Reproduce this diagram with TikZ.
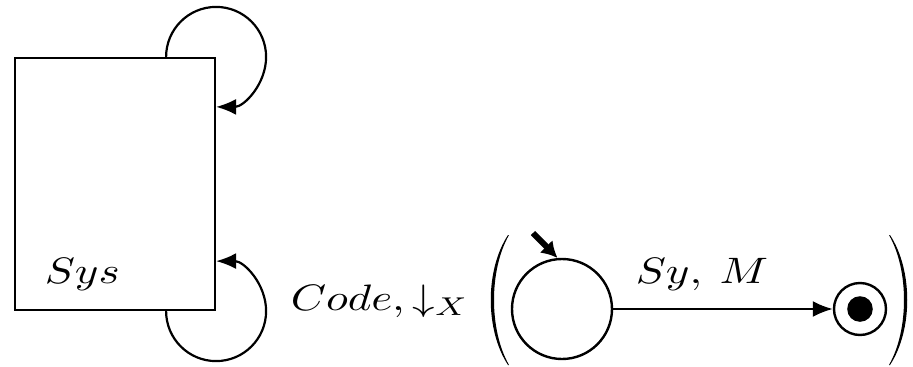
\documentclass[tikz,border=0pt]{standalone}
\usetikzlibrary{arrows.meta,calc}
\newcommand{\mylbl}[1]{\scalebox{1.125}[0.92]{$#1$}}
\begin{document}
\begin{tikzpicture}[x=0.25pt,y=0.25pt,
  ln/.style={line width=0.55pt},
  tip/.style={-{Latex[length=5pt,width=4pt]}},
  state/.style={circle,draw,line width=0.6pt,inner sep=0pt},
  lab/.style={inner sep=0pt,anchor=base west}]
\useasboundingbox (0,0) rectangle (913,366);
% system box
\node[draw,ln,minimum width=50pt,minimum height=63pt,inner sep=0pt] (sys) at (115,182) {};
\node[lab] (syslbl) at (44,83) {\mylbl{Sys}};
% self loops on the box
\draw[ln,tip] ([xshift=-12.5pt]sys.north east) arc[start angle=180,end angle=-90,radius=12.5pt];
\draw[ln,tip] ([xshift=-12.5pt]sys.south east) arc[start angle=180,end angle=450,radius=12.5pt];
% label
\node[lab] (codelbl) at (290,56) {\mylbl{Code,\downarrow_X}};
% parentheses
\fill (508,131) .. controls (485,96) and (485,36) .. (508,1)
  -- (509,1) .. controls (489,36) and (489,96) .. (509,131) -- cycle;
\fill (890,131) .. controls (913,96) and (913,36) .. (890,1)
  -- (889,1) .. controls (909,36) and (909,96) .. (889,131) -- cycle;
% automaton
\node[state,minimum size=25pt] (q0) at (562,57) {};
\node[state,minimum size=13pt] (qf) at (860,57) {};
\fill (qf.center) circle[radius=3.2pt];
\coordinate (init) at (533,133);
\draw[line width=1.5pt,-{Latex[length=4pt,width=4.5pt]}] (init) -- (q0.95);
\draw[ln,tip] (q0.east) -- (qf.west);
\node[lab] (smlbl) at (635,83) {\mylbl{Sy,\:M}};
\end{tikzpicture}
\end{document}
